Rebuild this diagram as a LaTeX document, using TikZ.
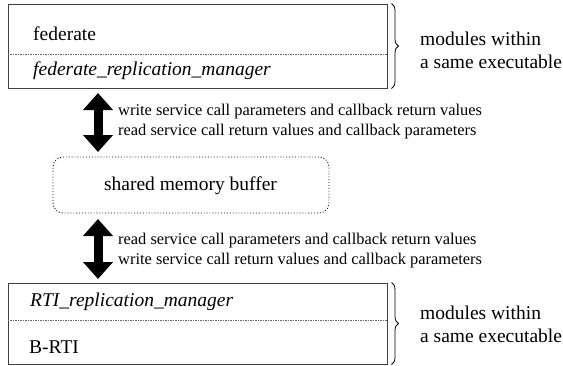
\documentclass[tikz,border=0pt]{standalone}
\usepackage{fontspec}
\setmainfont{Liberation Serif}
\usetikzlibrary{arrows.meta,decorations.pathreplacing}

\begin{document}
\begin{tikzpicture}[x=1pt,y=-1pt]

    \tikzset{module/.style={%
      draw=black!75,%
      line width=1pt,%
      rectangle,%
      minimum width=379pt,%
      minimum height=84pt}%
    };

    \tikzset{buffer/.style={draw, dotted, rounded corners=10pt, line width=0.9pt,%
      minimum width=276pt, minimum height=56pt}};
    \tikzset{label/.style={anchor=west, font=\fontsize{19.5}{23}\selectfont, inner sep=0pt}};
    \tikzset{note/.style={anchor=west, align=left, font=\fontsize{16.4}{20}\selectfont, inner sep=0pt}};
    \tikzset{divider/.style={draw=black!60, line width=0.7pt, dash pattern=on 1.5pt off 1pt}};
    \tikzset{bigarrow/.style={line width=9pt, {Triangle[width=29pt,length=17pt]}-{Triangle[width=29pt,length=17pt]}}};
    \tikzset{bracket/.style={draw, line width=0.8pt, decorate, decoration={brace, amplitude=7pt}}};

    \useasboundingbox (0,0) rectangle (563,365);

    %%%%%%%%%%%%%%%
    %  federate   %
    %%%%%%%%%%%%%%%
    \node [module] (fed) at (197.5,46) {};
    \draw [divider] ([yshift=-8pt]fed.west) -- ([yshift=-8pt]fed.east);
    \node [label] (fedname) at (33,34) {federate};
    \node [label] (fedrm) at (33,71) {\itshape federate\_replication\_manager};
    \draw [bracket] ([xshift=4pt]fed.north east) -- ([xshift=4pt]fed.south east);
    \node [label, align=left] (fedexe) at (420,50) {modules within\\a same executable};

    %%%%%%%%%%%%%%%
    %   buffer    %
    %%%%%%%%%%%%%%%
    \node [buffer] (mem) at (191,185) {};
    \node [label, anchor=center] (memname) at (190.5,186) {shared memory buffer};

    %%%%%%%%%%%%%%%
    %   B-RTI     %
    %%%%%%%%%%%%%%%
    \node [module, minimum height=81pt] (rti) at (197.5,323.5) {};
    \draw [divider] ([yshift=3.5pt]rti.west) -- ([yshift=3.5pt]rti.east);
    \node [label] (rtirm) at (30,302) {\itshape RTI\_replication\_manager};
    \node [label] (rtiname) at (29,347) {B-RTI};
    \draw [bracket] ([xshift=4pt]rti.north east) -- ([xshift=4pt]rti.south east);
    \node [label, align=left] (rtiexe) at (420,324) {modules within\\a same executable};

    %%%%%%%%%%%%%%%
    %   arrows    %
    %%%%%%%%%%%%%%%
    \coordinate (up1) at (98,93);
    \coordinate (dn1) at (98,152);
    \coordinate (up2) at (98,219);
    \coordinate (dn2) at (98,279);
    \draw [bigarrow] (up1) -- (dn1);
    \draw [bigarrow] (up2) -- (dn2);
    \node [note] (fedcall) at (118,122) {write service call parameters and callback return values\\read service call return values and callback parameters};
    \node [note] (rticall) at (118,251) {read service call parameters and callback return values\\write service call return values and callback parameters};

  \end{tikzpicture}
\end{document}
